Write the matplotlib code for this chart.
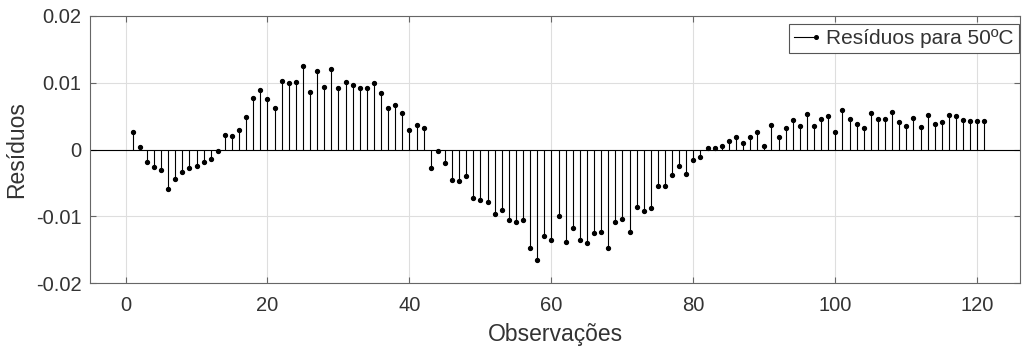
import numpy as np
import matplotlib
matplotlib.use('Agg')
import matplotlib.pyplot as plt
from matplotlib.lines import Line2D

plt.rcParams['font.family'] = ['Liberation Sans', 'DejaVu Sans']
plt.rcParams['axes.unicode_minus'] = False

residuos = [
    0.0026, 0.00045, -0.0019, -0.0026, -0.0030, -0.0059, -0.0044, -0.0034, -0.0028, -0.0024,
    -0.0018, -0.0014, -0.0002, 0.0022, 0.0020, 0.0030, 0.0048, 0.0077, 0.0089, 0.0076,
    0.0062, 0.0103, 0.0099, 0.0101, 0.0125, 0.0086, 0.0117, 0.0093, 0.0120, 0.0092,
    0.0101, 0.0097, 0.0092, 0.0092, 0.0100, 0.0084, 0.0062, 0.0067, 0.0054, 0.0030,
    0.0037, 0.0032, -0.0028, -0.0002, -0.0020, -0.0046, -0.0047, -0.0040, -0.0072, -0.0075,
    -0.0078, -0.0096, -0.0090, -0.0105, -0.0108, -0.0106, -0.0147, -0.0166, -0.0129, -0.0135,
    -0.0099, -0.0138, -0.0118, -0.0136, -0.0140, -0.0125, -0.0124, -0.0147, -0.0108, -0.0104,
    -0.0123, -0.0086, -0.0092, -0.0087, -0.0055, -0.0054, -0.0038, -0.0024, -0.0037, -0.0015,
    -0.0011, 0.0003, 0.0003, 0.0005, 0.0013, 0.0019, 0.0010, 0.0019, 0.0026, 0.0006,
    0.0037, 0.0019, 0.0032, 0.0044, 0.0035, 0.0053, 0.0035, 0.0046, 0.0050, 0.0027,
    0.0059, 0.0046, 0.0039, 0.0032, 0.0055, 0.0046, 0.0046, 0.0056, 0.0041, 0.0036,
    0.0047, 0.0034, 0.0051, 0.0039, 0.0041, 0.0051, 0.0050, 0.0044, 0.0043, 0.0043,
    0.0043,
]
observacoes = np.arange(1, len(residuos) + 1)

xticks = [0, 20, 40, 60, 80, 100, 120]
yticks = [-0.02, -0.01, 0, 0.01, 0.02]
ytick_labels = ['-0.02', '-0.01', '0', '0.01', '0.02']
legend_label = 'Resíduos para 50ºC'


class StemHandler():
    # horizontal line with a dot at its right end (matlab style)
    def legend_artist(self, legend, orig_handle, fontsize, handlebox):
        x0, y0 = -handlebox.xdescent, -handlebox.ydescent
        w, h = handlebox.width, handlebox.height
        line = Line2D([x0, x0 + w], [y0 + h / 2] * 2, color='k', lw=0.8)
        dot = Line2D([x0 + w], [y0 + h / 2], marker='o', ms=2.6, color='k', lw=0)
        handlebox.add_artist(line)
        handlebox.add_artist(dot)
        return line


fig = plt.figure(figsize=(10.23, 3.47), dpi=100)
ax = fig.add_axes([0.088, 0.184, 0.909, 0.770])

ax.axhline(0, color='k', lw=0.8, zorder=2)
markerline, stemlines, baseline = ax.stem(observacoes, residuos, basefmt=' ')
plt.setp(stemlines, color='k', lw=0.8)
plt.setp(markerline, color='k', marker='o', ms=2.8)

ax.set_xlim(-5, 126)
ax.set_ylim(-0.02, 0.02)
ax.set_xticks(xticks)
ax.set_yticks(yticks)
ax.set_yticklabels(ytick_labels)
ax.grid(True, color='#dedede', lw=0.8)
ax.set_axisbelow(True)

for s in ax.spines.values():
    s.set_color('#666666')
    s.set_linewidth(0.8)
ax.tick_params(direction='in', length=4, width=0.8, color='#666666',
               labelcolor='#333333', labelsize=14.5, top=True, right=True)
ax.tick_params(axis='x', pad=9)
ax.tick_params(axis='y', pad=6)

ax.set_xlabel('Observações', fontsize=16.5, color='#333333', labelpad=6)
ax.set_ylabel('Resíduos', fontsize=16.5, color='#333333', labelpad=6)

leg = ax.legend([stemlines], [legend_label], handler_map={type(stemlines): StemHandler()},
                loc='upper right', bbox_to_anchor=(0.999, 0.970), fontsize=15,
                fancybox=False, framealpha=1, edgecolor='#555555',
                handlelength=1.05, handletextpad=0.5, borderpad=0.25, borderaxespad=0)
leg.get_frame().set_linewidth(0.8)
for t in leg.get_texts():
    t.set_color('#333333')

fig.savefig('out.png', dpi=100)
